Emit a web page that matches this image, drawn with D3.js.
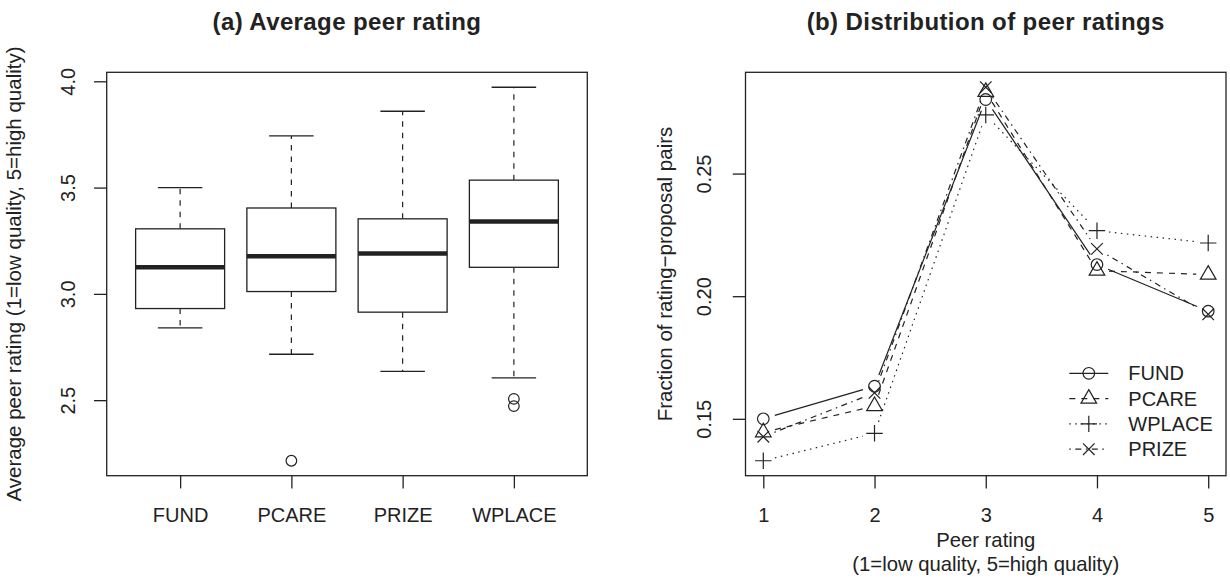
<!DOCTYPE html>
<html lang="en">
  <head>
    <meta charset="UTF-8" />
    <title>Peer ratings</title>
    <style>
      body {
        margin: 0;
        background: #fff;
      }
      svg {
        display: block;
        font-family: "Liberation Sans", Arial, Helvetica, sans-serif;
      }
      text {
        fill: #222;
      }
    </style>
  </head>
  <body>
    <svg width="1230" height="581"></svg>

    <script src="https://d3js.org/d3.v7.min.js"></script>
    <script>
      // ---- panel (a): box statistics per group ----
      const groups = ["FUND", "PCARE", "PRIZE", "WPLACE"];
      const whiskLo = [2.84, 2.716, 2.635, 2.605];
      const q1 = [2.931, 3.011, 2.914, 3.125];
      const med = [3.125, 3.177, 3.19, 3.34];
      const q3 = [3.306, 3.404, 3.353, 3.535];
      const whiskHi = [3.5, 3.743, 3.859, 3.972];
      const outliers = [[], [2.215], [], [2.506, 2.472]];
      const boxTicks = [2.5, 3.0, 3.5, 4.0];

      // ---- panel (b): fraction of pairs by peer rating ----
      const ratings = [1, 2, 3, 4, 5];
      const fund = [0.15, 0.1633, 0.2802, 0.2129, 0.1939];
      const pcare = [0.1445, 0.1552, 0.2833, 0.2104, 0.2088];
      const wplace = [0.1329, 0.1441, 0.2739, 0.2267, 0.2217];
      const prize = [0.1427, 0.1606, 0.2852, 0.2193, 0.1926];
      const fracTicks = [0.15, 0.2, 0.25];

      // legend order as in the figure
      const series = [
        { name: "FUND", values: fund, pch: "circle", dash: null },
        { name: "PCARE", values: pcare, pch: "triangle", dash: "6,6" },
        { name: "WPLACE", values: wplace, pch: "plus", dash: "1.5,4.5" },
        { name: "PRIZE", values: prize, pch: "cross", dash: "1.5,4.5,6,4.5" },
      ];

      const ink = "#222";
      const svg = d3.select("svg");
      const plotTop = 72.3,
        plotBottom = 475.7;

      // R style 4% padding
      function padded(lo, hi) {
        const r = hi - lo;
        return [lo - 0.04 * r, hi + 0.04 * r];
      }

      // ================= panel (a) =================
      const aLeft = 106.7,
        aRight = 587.3;
      const allA = whiskLo.concat(whiskHi, outliers.flat());
      const xA = d3.scaleLinear().domain(padded(0.5, groups.length + 0.5)).range([aLeft, aRight]);
      const yA = d3.scaleLinear().domain(padded(d3.min(allA), d3.max(allA))).range([plotBottom, plotTop]);

      const gA = svg.append("g");

      groups.forEach((g, i) => {
        const cx = xA(i + 1);
        const bw = xA(0.4) - xA(0);
        const sw = xA(0.2) - xA(0);
        // whiskers
        gA.append("line")
          .attr("x1", cx).attr("x2", cx)
          .attr("y1", yA(q3[i])).attr("y2", yA(whiskHi[i]))
          .attr("stroke", ink).attr("stroke-width", 1.2).attr("stroke-dasharray", "5.5,6");
        gA.append("line")
          .attr("x1", cx).attr("x2", cx)
          .attr("y1", yA(q1[i])).attr("y2", yA(whiskLo[i]))
          .attr("stroke", ink).attr("stroke-width", 1.2).attr("stroke-dasharray", "5.5,6");
        // staples
        [whiskHi[i], whiskLo[i]].forEach((v) => {
          gA.append("line")
            .attr("x1", cx - sw).attr("x2", cx + sw)
            .attr("y1", yA(v)).attr("y2", yA(v))
            .attr("stroke", ink).attr("stroke-width", 1.3);
        });
        // box
        gA.append("rect")
          .attr("x", cx - bw).attr("width", 2 * bw)
          .attr("y", yA(q3[i])).attr("height", yA(q1[i]) - yA(q3[i]))
          .attr("fill", "#fff").attr("stroke", ink).attr("stroke-width", 1.3);
        // median
        gA.append("line")
          .attr("x1", cx - bw).attr("x2", cx + bw)
          .attr("y1", yA(med[i])).attr("y2", yA(med[i]))
          .attr("stroke", ink).attr("stroke-width", 4.5);
        // outliers
        outliers[i].forEach((v) => {
          gA.append("circle")
            .attr("cx", cx).attr("cy", yA(v)).attr("r", 5.3)
            .attr("fill", "none").attr("stroke", ink).attr("stroke-width", 1.2);
        });
      });

      // frame + axes
      gA.append("rect")
        .attr("x", aLeft).attr("y", plotTop)
        .attr("width", aRight - aLeft).attr("height", plotBottom - plotTop)
        .attr("fill", "none").attr("stroke", ink).attr("stroke-width", 1.3);

      const axA = gA.append("g").attr("transform", `translate(${aLeft},0)`)
        .call(d3.axisLeft(yA).tickValues(boxTicks).tickSize(12.7).tickFormat(d3.format(".1f")));
      axA.select(".domain").remove();
      axA.selectAll("line").attr("stroke", ink).attr("stroke-width", 1.3);
      axA.selectAll("text")
        .attr("x", null).attr("dy", null)
        .attr("text-anchor", "middle")
        .attr("transform", "translate(-31.5,0) rotate(-90)")
        .style("font-size", "20px").style("fill", ink);

      const axAx = gA.append("g").attr("transform", `translate(0,${plotBottom})`)
        .call(d3.axisBottom(xA).tickValues([1, 2, 3, 4]).tickSize(12.7).tickFormat((d) => groups[d - 1]));
      axAx.select(".domain").remove();
      axAx.selectAll("line").attr("stroke", ink).attr("stroke-width", 1.3);
      axAx.selectAll("text").attr("y", 46.5).attr("dy", null)
        .style("font-size", "20px").style("fill", ink);

      gA.append("text")
        .attr("transform", `translate(21,${(plotTop + plotBottom) / 2}) rotate(-90)`)
        .attr("text-anchor", "middle").style("font-size", "20.5px")
        .text("Average peer rating (1=low quality, 5=high quality)");

      gA.append("text")
        .attr("x", (aLeft + aRight) / 2).attr("y", 30)
        .attr("text-anchor", "middle").style("font-size", "24px").style("font-weight", "bold")
        .style("letter-spacing", "0.4px")
        .text("(a) Average peer rating");

      // ================= panel (b) =================
      const bLeft = 745.5,
        bRight = 1226;
      const allB = fund.concat(pcare, wplace, prize);
      const xB = d3.scaleLinear().domain(padded(1, 5)).range([bLeft, bRight]);
      const yB = d3.scaleLinear().domain(padded(d3.min(allB), d3.max(allB))).range([plotBottom, plotTop]);

      const gB = svg.append("g");

      // R plotting symbols
      function symbolPath(type, x, y) {
        const p = d3.path();
        const s = 5.8;
        if (type === "circle") {
          p.moveTo(x + s, y);
          p.arc(x, y, s, 0, 2 * Math.PI);
        } else if (type === "triangle") {
          const r = 1.5551 * s, xc = 1.3468 * s, yc = 0.7776 * s;
          p.moveTo(x, y - r);
          p.lineTo(x + xc, y + yc);
          p.lineTo(x - xc, y + yc);
          p.closePath();
        } else if (type === "plus") {
          const a = Math.SQRT2 * s;
          p.moveTo(x - a, y); p.lineTo(x + a, y);
          p.moveTo(x, y - a); p.lineTo(x, y + a);
        } else {
          p.moveTo(x - s, y - s); p.lineTo(x + s, y + s);
          p.moveTo(x - s, y + s); p.lineTo(x + s, y - s);
        }
        return p.toString();
      }

      const gap = 12;
      series.forEach((s) => {
        const pts = ratings.map((r, i) => [xB(r), yB(s.values[i])]);
        // type = "b": segments with gaps around points
        for (let i = 0; i < pts.length - 1; i++) {
          const [x0, y0] = pts[i], [x1, y1] = pts[i + 1];
          const len = Math.hypot(x1 - x0, y1 - y0);
          const ux = (x1 - x0) / len, uy = (y1 - y0) / len;
          gB.append("line")
            .attr("x1", x0 + ux * gap).attr("y1", y0 + uy * gap)
            .attr("x2", x1 - ux * gap).attr("y2", y1 - uy * gap)
            .attr("stroke", ink).attr("stroke-width", 1.2)
            .attr("stroke-dasharray", s.dash);
        }
        pts.forEach(([x, y]) => {
          gB.append("path").attr("d", symbolPath(s.pch, x, y))
            .attr("fill", "none").attr("stroke", ink).attr("stroke-width", 1.2);
        });
      });

      // legend (no border)
      const legX = 1069.3, legY = 373.3, legStep = 25.3;
      series.forEach((s, i) => {
        const y = legY + i * legStep;
        gB.append("line")
          .attr("x1", legX).attr("x2", legX + 39).attr("y1", y).attr("y2", y)
          .attr("stroke", ink).attr("stroke-width", 1.2).attr("stroke-dasharray", s.dash);
        gB.append("path").attr("d", symbolPath(s.pch, legX + 19.5, y))
          .attr("fill", "none")
          .attr("stroke", ink).attr("stroke-width", 1.2);
        gB.append("text").attr("x", legX + 59).attr("y", y + 7)
          .style("font-size", "20px").text(s.name);
      });

      gB.append("rect")
        .attr("x", bLeft).attr("y", plotTop)
        .attr("width", bRight - bLeft).attr("height", plotBottom - plotTop)
        .attr("fill", "none").attr("stroke", ink).attr("stroke-width", 1.3);

      const axB = gB.append("g").attr("transform", `translate(${bLeft},0)`)
        .call(d3.axisLeft(yB).tickValues(fracTicks).tickSize(12.7).tickFormat(d3.format(".2f")));
      axB.select(".domain").remove();
      axB.selectAll("line").attr("stroke", ink).attr("stroke-width", 1.3);
      axB.selectAll("text")
        .attr("x", null).attr("dy", null)
        .attr("text-anchor", "middle")
        .attr("transform", "translate(-35,0) rotate(-90)")
        .style("font-size", "20px").style("fill", ink);

      const axBx = gB.append("g").attr("transform", `translate(0,${plotBottom})`)
        .call(d3.axisBottom(xB).tickValues(ratings).tickSize(12.7).tickFormat(d3.format("d")));
      axBx.select(".domain").remove();
      axBx.selectAll("line").attr("stroke", ink).attr("stroke-width", 1.3);
      axBx.selectAll("text").attr("y", 46.5).attr("dy", null)
        .style("font-size", "20px").style("fill", ink);

      gB.append("text")
        .attr("x", (bLeft + bRight) / 2).attr("y", 547)
        .attr("text-anchor", "middle").style("font-size", "20.3px")
        .text("Peer rating");
      gB.append("text")
        .attr("x", (bLeft + bRight) / 2).attr("y", 571)
        .attr("text-anchor", "middle").style("font-size", "20.3px")
        .text("(1=low quality, 5=high quality)");

      gB.append("text")
        .attr("transform", `translate(672,${(plotTop + plotBottom) / 2}) rotate(-90)`)
        .attr("text-anchor", "middle").style("font-size", "20.5px")
        .text("Fraction of rating\u2212proposal pairs");

      gB.append("text")
        .attr("x", (bLeft + bRight) / 2).attr("y", 30)
        .attr("text-anchor", "middle").style("font-size", "24px").style("font-weight", "bold")
        .style("letter-spacing", "0.4px")
        .text("(b) Distribution of peer ratings");
    </script>
  </body>
</html>
